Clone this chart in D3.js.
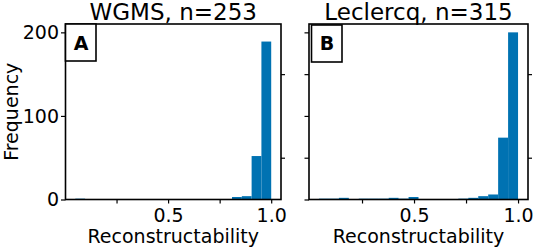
<!DOCTYPE html>
<html>
<head>
<meta charset="utf-8">
<script src="https://cdn.jsdelivr.net/npm/d3@7"></script>
<style>
  html, body { margin: 0; padding: 0; background: #fff; }
  svg { display: block; font-family: "DejaVu Sans", sans-serif; }
</style>
</head>
<body>
<svg id="chart" width="533" height="249"></svg>
<script>
// ---- data ----
const titles = ["WGMS, n=253", "Leclercq, n=315"];
const panelLabels = ["A", "B"];
const binMins = [0.05, 0.043];
const binMax = 1.0;
const countsA = [1,0,0,0,0,0,0,0,0,0,0,0,0,0,0,0,3,4,52,189];
const countsB = [1,1,2,0,1,1,1,2,1,3,0,0,0,0,1,2,4,6,74,200];
const xTickValues = [0.25, 0.5, 0.75, 1.0];
const xTickLabels = [0.5, 1.0];
const yTickValues = [0, 100, 200];
const yMinorTicks = [50, 150];
const yMax = 210;
const xLabel = "Reconstructability";
const yLabel = "Frequency";

// ---- layout ----
const svg = d3.select("#chart");
const plotTop = 24, plotBottom = 199.5;
const frames = [{l: 65.5, r: 281}, {l: 309, r: 528}];
const allCounts = [countsA, countsB];
const barColor = "#0072b2";

const y = d3.scaleLinear().domain([0, yMax]).range([plotBottom, plotTop]);

frames.forEach((f, i) => {
  const counts = allCounts[i];
  const bmin = binMins[i];
  const span = binMax - bmin;
  const x = d3.scaleLinear()
    .domain([bmin - 0.05 * span, binMax + 0.05 * span])
    .range([f.l, f.r]);
  const bw = span / counts.length;
  const bins = counts.map((c, k) => ({x0: bmin + k * bw, x1: bmin + (k + 1) * bw, c}));

  const g = svg.append("g");

  g.selectAll("rect.bar").data(bins.filter(d => d.c > 0)).join("rect")
    .attr("class", "bar")
    .attr("x", d => x(d.x0))
    .attr("width", d => x(d.x1) - x(d.x0))
    .attr("y", d => y(d.c))
    .attr("height", d => y(0) - y(d.c))
    .attr("fill", barColor);

  // x axis
  const xAxis = d3.axisBottom(x).tickValues(xTickValues).tickSize(4).tickPadding(5)
    .tickFormat(d => xTickLabels.includes(d) ? d3.format(".1f")(d) : "");
  const xg = g.append("g").attr("transform", `translate(0,${plotBottom})`).call(xAxis);
  xg.select(".domain").remove();
  xg.selectAll("line").attr("stroke", "#000").attr("stroke-width", 1.2);
  xg.selectAll("text").attr("font-size", 19).attr("fill", "#000")
    .attr("font-family", "DejaVu Sans");

  // y axis left
  const yAxis = d3.axisLeft(y).tickValues(i === 0 ? yTickValues : yTickValues.concat(yMinorTicks))
    .tickSize(4.5).tickPadding(2)
    .tickFormat(d => i === 0 ? d3.format("d")(d) : "");
  const yg = g.append("g").attr("transform", `translate(${f.l},0)`).call(yAxis);
  yg.select(".domain").remove();
  yg.selectAll("line").attr("stroke", "#000").attr("stroke-width", 1.2);
  yg.selectAll("text").attr("font-size", 19).attr("fill", "#000")
    .attr("font-family", "DejaVu Sans");

  // y axis right minor ticks
  const yr = d3.axisRight(y).tickValues(yMinorTicks).tickSize(4).tickFormat("");
  const yrg = g.append("g").attr("transform", `translate(${f.r},0)`).call(yr);
  yrg.select(".domain").remove();
  yrg.selectAll("line").attr("stroke", "#000").attr("stroke-width", 1.2);

  // frame
  g.append("rect")
    .attr("x", f.l).attr("y", plotTop)
    .attr("width", f.r - f.l).attr("height", plotBottom - plotTop)
    .attr("fill", "none").attr("stroke", "#000").attr("stroke-width", 1.6);

  // panel label box
  const bx = f.l + (i === 0 ? 0 : 2.5);
  g.append("rect")
    .attr("x", bx).attr("y", plotTop + (i === 0 ? 0 : 1))
    .attr("width", 30.5).attr("height", 37)
    .attr("fill", "#fff").attr("stroke", "#000").attr("stroke-width", 1.6);
  g.append("text")
    .attr("x", bx + 15.5).attr("y", plotTop + 26)
    .attr("text-anchor", "middle")
    .attr("font-size", 19).attr("font-weight", "bold")
    .text(panelLabels[i]);

  // title
  g.append("text")
    .attr("x", (f.l + f.r) / 2).attr("y", 19.5)
    .attr("text-anchor", "middle")
    .attr("font-size", 23)
    .text(titles[i]);

  // x label
  g.append("text")
    .attr("x", (f.l + f.r) / 2).attr("y", 243)
    .attr("text-anchor", "middle")
    .attr("font-size", 19)
    .text(xLabel);
});

// y label
svg.append("text")
  .attr("transform", `translate(18,${(plotTop + plotBottom) / 2}) rotate(-90)`)
  .attr("text-anchor", "middle")
  .attr("font-size", 19)
  .text(yLabel);
</script>
</body>
</html>
